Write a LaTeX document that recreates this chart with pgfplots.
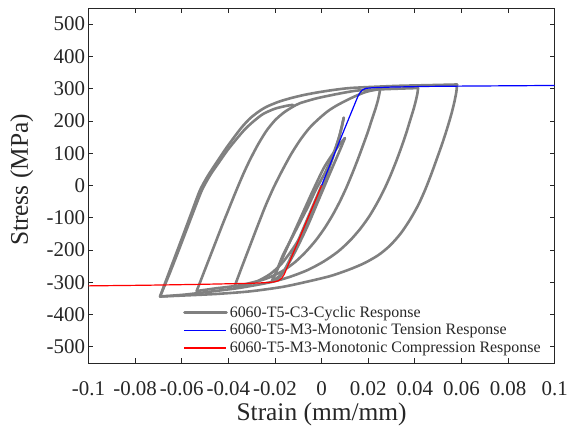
\documentclass[border=0pt]{standalone}
\usepackage{fontspec}
\setmainfont{Liberation Serif}
\usepackage{pgfplots}
\pgfplotsset{compat=1.18}
\definecolor{cyc}{RGB}{128,128,128}
\pgfplotsset{legend image code/.code={\draw[#1] (0bp,0bp) -- (42bp,0bp);}}
\pgfplotsset{cycl/.style={cyc, line width=2.6bp, line join=round, line cap=round, smooth, tension=0.45}}
\begin{document}
\begin{tikzpicture}
\begin{axis}[
 at={(0,0)}, anchor=south west, scale only axis,
 width=466.2bp, height=355bp,
 xmin=-0.1, xmax=0.1, ymin=-550, ymax=550,
 xtick={-0.1,-0.08,-0.06,-0.04,-0.02,0,0.02,0.04,0.06,0.08,0.1},
 xticklabels={-0.1,-0.08,-0.06,-0.04,-0.02,0,0.02,0.04,0.06,0.08,0.1},
 ytick={-500,-400,-300,-200,-100,0,100,200,300,400,500},
 yticklabels={-500,-400,-300,-200,-100,0,100,200,300,400,500},
 tick align=inside, major tick length=5bp,
 tick style={black!85, line width=0.8bp},
 axis line style={black!85, line width=0.9bp},
 ticklabel style={font=\fontsize{21}{24}\selectfont, text=black!85},
 xticklabel style={anchor=base, yshift=-32.7bp},
 xlabel={Strain (mm/mm)}, ylabel={Stress (MPa)},
 label style={font=\fontsize{25.5}{30}\selectfont, text=black!85},
 xlabel style={at={(axis description cs:0.5,-0.1437)}, anchor=center},
 ylabel style={at={(axis description cs:-0.1433,0.5155)}, anchor=center},
 legend style={at={(0.2027,0.166)}, anchor=north west, draw=none, fill=none,
   inner sep=0pt, font=\fontsize{16}{19}\selectfont, row sep=1.5bp, text=black!85},
 legend cell align=left,
]
% cyclic response, branch by branch
\addplot[cycl] coordinates {
 (0,0) (-0.005,-85) (-0.010,-170) (-0.014,-235) (-0.0165,-270) (-0.0185,-287) (-0.0213,-296)};
\addlegendentry{6060-T5-C3-Cyclic Response}
\addplot[cycl, forget plot] coordinates {
 (-0.0213,-296) (-0.018,-245) (-0.014,-180) (-0.009,-100) (-0.004,-20) (0.001,55) (0.005,100) (0.008,130) (0.0100,147)};
\addplot[cycl, forget plot] coordinates {
 (0.0100,147) (0.008,112) (0.004,45) (-0.001,-40) (-0.006,-125) (-0.011,-200) (-0.015,-252) (-0.018,-280) (-0.0213,-296)};
\addplot[cycl, forget plot] coordinates {
 (-0.0213,-296) (-0.019,-259) (-0.0166,-216) (-0.0131,-167) (-0.0093,-114) (-0.0058,-65) (-0.0024,-12) (0.0015,40) (0.0049,96) (0.0075,150) (0.0095,210)};
\addplot[cycl, forget plot] coordinates {
 (0.0095,210) (0.0088,185) (0.0077,155) (0.0062,118) (0.0045,80) (0.0026,40) (0.0005,-2) (-0.0018,-45) (-0.0043,-88) (-0.0070,-130) (-0.0100,-170) (-0.0135,-208) (-0.0175,-245) (-0.0222,-275) (-0.0286,-300) (-0.0376,-318)};
\addplot[cycl, forget plot] coordinates {
 (-0.0376,-318) (-0.0345,-258) (-0.0310,-192) (-0.0275,-126) (-0.0240,-62) (-0.0205,-5) (-0.0170,45) (-0.0130,98) (-0.0090,143) (-0.0050,180) (-0.0007,210) (0.0030,232) (0.0070,250) (0.0130,272) (0.0190,290) (0.0251,299)};
\addplot[cycl, forget plot] coordinates {
 (0.0251,299) (0.0248,285) (0.0242,265) (0.0230,235) (0.0216,205) (0.0198,165) (0.0178,125) (0.0156,82) (0.0132,38) (0.0106,-7) (0.0078,-50) (0.0047,-92) (0.0013,-132) (-0.0025,-170) (-0.0067,-205) (-0.0115,-238) (-0.0170,-266) (-0.0243,-290) (-0.0350,-309) (-0.0457,-319) (-0.0536,-327)};
\addplot[cycl, forget plot] coordinates {
 (-0.0536,-327) (-0.0500,-260) (-0.0465,-195) (-0.0430,-130) (-0.0395,-67) (-0.0364,-12) (-0.0335,37) (-0.0307,80) (-0.0272,128) (-0.0236,170) (-0.0200,202) (-0.0164,225) (-0.0128,242) (-0.0093,255) (-0.0022,270) (0.0049,281) (0.0107,289) (0.0165,295) (0.0290,299) (0.0414,302)};
\addplot[cycl, forget plot] coordinates {
 (0.0414,302) (0.0411,285) (0.0405,265) (0.0394,235) (0.0379,200) (0.0362,160) (0.0342,118) (0.0320,75) (0.0296,32) (0.0270,-10) (0.0240,-52) (0.0205,-95) (0.0165,-135) (0.0120,-172) (0.0070,-205) (0.0010,-235) (-0.0060,-262) (-0.0140,-284) (-0.0221,-300) (-0.0350,-317) (-0.0479,-329) (-0.0586,-338) (-0.0693,-344)};
\addplot[cycl, forget plot] coordinates {
 (-0.0693,-344) (-0.0660,-280) (-0.0625,-213) (-0.0590,-146) (-0.0555,-78) (-0.0522,-15) (-0.0488,30) (-0.0450,72) (-0.0415,110) (-0.0379,146) (-0.0343,180) (-0.0307,208) (-0.0270,229) (-0.0236,244) (-0.0186,259) (-0.0136,270) (-0.0079,280) (-0.0021,288) (0.0050,296) (0.0122,302) (0.0230,306) (0.0336,309) (0.0460,311) (0.0581,313)};
\addplot[cycl, forget plot] coordinates {
 (0.0581,313) (0.0578,290) (0.0570,260) (0.0557,222) (0.0540,180) (0.0520,135) (0.0497,88) (0.0472,38) (0.0445,-12) (0.0415,-60) (0.0380,-105) (0.0340,-148) (0.0295,-185) (0.0245,-215) (0.0185,-240) (0.0120,-260) (0.0040,-280) (-0.0050,-296) (-0.0166,-314) (-0.0307,-328) (-0.0450,-336) (-0.0595,-341) (-0.0693,-344)};
\addplot[cycl, forget plot] coordinates {
 (-0.0693,-344) (-0.0655,-278) (-0.0618,-210) (-0.0582,-142) (-0.0547,-76) (-0.0513,-14) (-0.0478,32) (-0.0440,72) (-0.0403,110) (-0.0365,144) (-0.0328,175) (-0.0290,200) (-0.0250,222) (-0.0200,238) (-0.0150,247) (-0.0123,250)};
\addplot[blue, line width=1.2bp] coordinates {
 (0,0) (0.005,89) (0.010,178) (0.0155,275) (0.0165,288) (0.0175,296) (0.0190,301) (0.022,303) (0.03,305) (0.045,307) (0.06,308) (0.08,309) (0.1,310)
};
\addlegendentry{6060-T5-M3-Monotonic Tension Response}
\addplot[red, line width=1.2bp] coordinates {
 (0,0) (-0.005,-86) (-0.010,-172) (-0.0160,-275) (-0.0172,-288) (-0.0185,-295) (-0.0205,-299) (-0.024,-301) (-0.03,-303) (-0.05,-306) (-0.075,-309) (-0.1,-311)
};
\addlegendentry{6060-T5-M3-Monotonic Compression Response}
\end{axis}
\pgfresetboundingbox
\path[use as bounding box] (-88.5bp,-68bp) rectangle (480.5bp,363bp);
\end{tikzpicture}
\end{document}
